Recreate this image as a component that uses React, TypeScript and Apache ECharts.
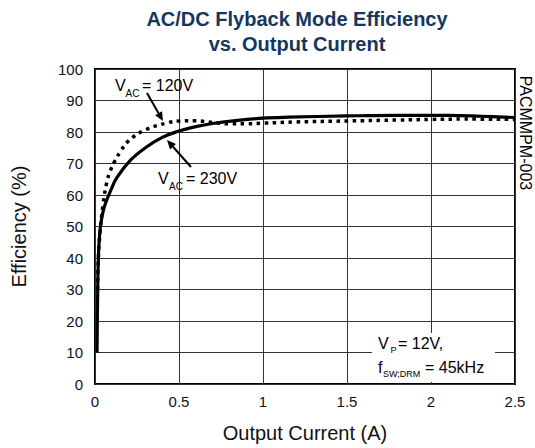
import React, { useEffect, useRef } from "react";
import * as echarts from "echarts";

const xTicks = [0, 0.5, 1, 1.5, 2, 2.5];
const yTicks = [0, 10, 20, 30, 40, 50, 60, 70, 80, 90, 100];

// VAC = 230V (solid)
const current230 = [0.012, 0.015, 0.02, 0.03, 0.045, 0.06, 0.09, 0.13, 0.21, 0.3, 0.4, 0.5, 0.6, 0.7, 0.85, 1.0, 1.15, 1.5, 1.8, 2.1, 2.3, 2.5];
const eff230 = [10, 25, 40, 49, 54, 57, 61, 65.5, 71, 75, 78.3, 80.3, 81.7, 82.7, 83.7, 84.4, 84.7, 85.1, 85.3, 85.3, 85.0, 84.6];

// VAC = 120V (dotted)
const current120 = [0.015, 0.02, 0.03, 0.048, 0.07, 0.09, 0.12, 0.15, 0.2, 0.3, 0.43, 0.5, 0.6, 0.7, 0.8, 0.9, 1.0, 1.2, 1.5, 1.8, 2.0, 2.2, 2.5];
const eff120 = [30, 40, 48, 57, 64, 67.5, 71, 73.7, 77.2, 80.7, 82.9, 83.5, 83.6, 83.0, 82.6, 82.6, 82.8, 83.2, 83.5, 83.8, 84.0, 84.1, 84.0];

const FONT = "'Liberation Sans', Arial, sans-serif";

function arrow(x1: number, y1: number, x2: number, y2: number) {
  const ang = Math.atan2(y2 - y1, x2 - x1);
  const len = 9;
  const half = 4;
  const bx = x2 - len * Math.cos(ang);
  const by = y2 - len * Math.sin(ang);
  const px = -Math.sin(ang) * half;
  const py = Math.cos(ang) * half;
  return [
    {
      type: "line",
      z: 50,
      shape: { x1, y1, x2: bx, y2: by },
      style: { stroke: "#000", lineWidth: 2 },
    },
    {
      type: "polygon",
      z: 50,
      shape: { points: [[x2, y2], [bx + px, by + py], [bx - px, by - py]] },
      style: { fill: "#000" },
    },
  ];
}

function txt(x: number, y: number, text: string, size: number, extra: any = {}) {
  return {
    type: "text",
    z: 60,
    x,
    y,
    style: {
      text,
      font: `${size}px ${FONT}`,
      fill: "#000",
      textAlign: "left",
      textVerticalAlign: "middle",
      verticalAlign: "middle",
      ...extra,
    },
  };
}

export default function App() {
  const ref = useRef<HTMLDivElement>(null);
  useEffect(() => {
    if (!ref.current) return;
    const chart = echarts.init(ref.current, undefined, { renderer: "svg" });
    const d230 = current230.map((c, i) => [c, eff230[i]]);
    const d120 = current120.map((c, i) => [c, eff120[i]]);
    chart.setOption({
      animation: false,
      backgroundColor: "#fff",
      textStyle: { fontFamily: FONT },
      grid: {
        left: 95,
        right: 20,
        top: 69,
        bottom: 59,
        show: true,
        borderColor: "#000",
        borderWidth: 2,
        containLabel: false,
      },
      xAxis: {
        type: "value",
        min: xTicks[0],
        max: xTicks[xTicks.length - 1],
        interval: 0.5,
        name: "Output Current (A)",
        nameLocation: "middle",
        nameGap: 39,
        nameTextStyle: { fontSize: 20, color: "#111", fontFamily: FONT },
        axisLine: { show: false },
        axisTick: { show: false },
        axisLabel: { fontSize: 15, color: "#111", margin: 10, fontFamily: FONT },
        splitLine: { show: true, lineStyle: { color: "#333", width: 1 } },
      },
      yAxis: {
        type: "value",
        min: yTicks[0],
        max: yTicks[yTicks.length - 1],
        interval: 10,
        name: "Efficiency (%)",
        nameLocation: "middle",
        nameRotate: 90,
        nameGap: 66,
        nameTextStyle: { fontSize: 20, color: "#111", fontFamily: FONT },
        axisLine: { show: false },
        axisTick: { show: false },
        axisLabel: { fontSize: 15, color: "#111", margin: 12, fontFamily: FONT },
        splitLine: { show: true, lineStyle: { color: "#333", width: 1 } },
      },
      series: [
        {
          name: "VAC = 230V",
          type: "line",
          data: d230,
          showSymbol: false,
          symbol: "none",
          smooth: 0.4,
          lineStyle: { color: "#000", width: 3.2, type: "solid", join: "round" },
          z: 3,
        },
        {
          name: "VAC = 120V",
          type: "line",
          data: d120,
          showSymbol: false,
          symbol: "none",
          smooth: 0.4,
          lineStyle: { color: "#000", width: 3.5, type: [3.5, 4.5], cap: "butt" },
          z: 4,
        },
      ],
      graphic: [
        {
          type: "text",
          z: 60,
          x: 297,
          y: 31.5,
          style: {
            text: "AC/DC Flyback Mode Efficiency\nvs. Output Current",
            font: `bold 20px ${FONT}`,
            fill: "#17365d",
            textAlign: "center",
            textVerticalAlign: "middle",
            verticalAlign: "middle",
            lineHeight: 25,
          },
        },
        {
          type: "text",
          z: 60,
          x: 525.5,
          y: 133,
          rotation: -Math.PI / 2,
          style: {
            text: "PACMMPM-003",
            font: `16px ${FONT}`,
            fill: "#000",
            textAlign: "center",
            textVerticalAlign: "middle",
            verticalAlign: "middle",
          },
        },
        // annotation box
        {
          type: "rect",
          z: 40,
          shape: { x: 372, y: 333, width: 123, height: 49 },
          style: { fill: "#fff" },
        },
        txt(378, 343, "V", 16),
        txt(390.5, 350, "P", 9),
        txt(398, 343, "= 12V,", 16),
        txt(378, 367, "f", 16),
        txt(383, 374, "SW;DRM", 9),
        txt(425, 367, "= 45kHz", 16),
        // 120V label
        txt(115, 85, "V", 16),
        txt(125.5, 93, "AC", 10),
        txt(142, 85, "= 120V", 16),
        // 230V label
        txt(158, 178, "V", 16),
        txt(169, 186, "AC", 10),
        txt(186, 178, "= 230V", 16),
        ...arrow(147, 93, 163, 121),
        ...arrow(191, 167, 167, 140),
      ],
    });
    return () => chart.dispose();
  }, []);
  return (
    <div
      ref={ref}
      style={{ position: "absolute", left: 0, top: 0, width: 535, height: 448 }}
    />
  );
}
